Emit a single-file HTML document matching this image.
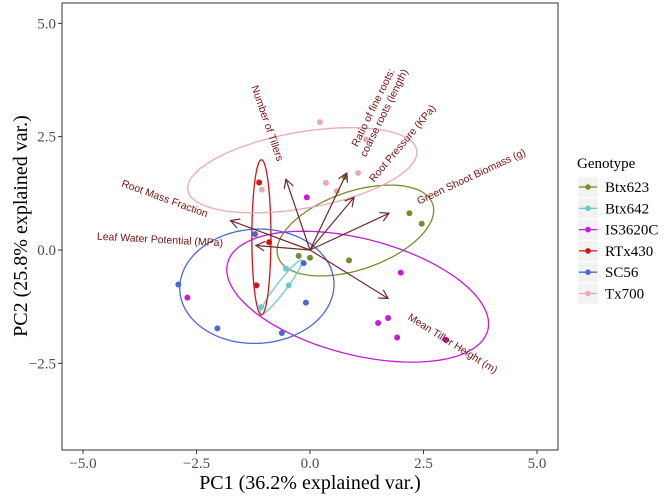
<!DOCTYPE html>
<html><head><meta charset="utf-8"><style>
html,body{margin:0;padding:0;background:#fff;}
svg{display:block;}
</style></head><body>
<svg id="chart" width="669" height="499" xmlns="http://www.w3.org/2000/svg"></svg>
<script>
const xTicks=[-5,-2.5,0,2.5,5];
const yTicks=[-2.5,0,2.5,5];
const xTickLabels=["\u22125.0","\u22122.5","0.0","2.5","5.0"];
const yTickLabels=["\u22122.5","0.0","2.5","5.0"];
const groups=["Btx623","Btx642","IS3620C","RTx430","SC56","Tx700"];
const groupColors=["#7a8b2a","#6cc9c9","#c61ad6","#d4141c","#4a68d4","#e8aab8"];
const btx623X=[0.77,2.19,2.46,0.86,-0.25,0.0];
const btx623Y=[1.61,0.81,0.58,-0.23,-0.13,-0.17];
const btx642X=[-1.08,-0.47,-0.53];
const btx642Y=[-1.26,-0.78,-0.41];
const is3620cX=[-0.07,-2.70,2.0,1.72,1.50,1.92,2.99];
const is3620cY=[1.16,-1.05,-0.50,-1.50,-1.61,-1.93,-1.98];
const rtx430X=[-1.12,-0.90,-1.18];
const rtx430Y=[1.49,0.17,-0.78];
const sc56X=[-1.21,-2.90,-2.04,-0.62,-0.09,-0.14];
const sc56Y=[0.35,-0.76,-1.73,-1.83,-1.16,-0.29];
const tx700X=[0.22,0.35,1.06,-1.06,1.23,0.59];
const tx700Y=[2.82,1.48,1.70,1.33,2.44,1.30];
const groupX=[btx623X,btx642X,is3620cX,rtx430X,sc56X,tx700X];
const groupY=[btx623Y,btx642Y,is3620cY,rtx430Y,sc56Y,tx700Y];
const ellCX=[1.0,-0.64,1.05,-1.07,-1.17,-0.17];
const ellCY=[0.43,-0.83,-1.03,0.28,-0.80,1.76];
const ellA=[1.80,0.76,2.96,1.71,1.70,2.56];
const ellB=[0.86,0.11,1.28,0.21,1.26,0.84];
const ellAngle=[19,52.8,-14.5,90,3,10];
const varNames=["Number of Tillers","Ratio of fine roots:|coarse roots (length)","Root Pressure (KPa)","Green Shoot Biomass (g)","Root Mass Fraction","Leaf Water Potential (MPa)","Mean Tiller Height (m)"];
const varX=[-0.53,0.81,0.97,1.74,-1.75,-1.19,1.72];
const varY=[1.56,1.70,1.16,0.81,0.65,0.10,-1.07];

const NS="http://www.w3.org/2000/svg";
const svg=document.getElementById('chart');
const P={l:62,r:558,t:3,b:450};
const sx=v=>310+v*45.4;
const sy=v=>250-v*45.33;
function mk(tag,attrs,parent){const e=document.createElementNS(NS,tag);for(const k in attrs)e.setAttribute(k,attrs[k]);(parent||svg).appendChild(e);return e;}

const panel=mk('rect',{x:P.l,y:P.t,width:P.r-P.l,height:P.b-P.t,fill:'#fff',stroke:'#333','stroke-width':1});



xTicks.forEach((v,i)=>{
  const x=sx(v);
  mk('line',{x1:x,x2:x,y1:P.b,y2:P.b+4,stroke:'#333'});
  const t=mk('text',{x:x,y:P.b+18,'text-anchor':'middle','font-family':'Liberation Serif, serif','font-size':15,fill:'#4d4d4d'});
  t.textContent=xTickLabels[i];
  
  
});
yTicks.forEach((v,i)=>{
  const y=sy(v);
  mk('line',{x1:P.l-4,x2:P.l,y1:y,y2:y,stroke:'#333'});
  const t=mk('text',{x:P.l-6,y:y+5,'text-anchor':'end','font-family':'Liberation Serif, serif','font-size':15,fill:'#4d4d4d'});
  t.textContent=yTickLabels[i];
  
  
});
const xt=mk('text',{x:310,y:489,'text-anchor':'middle','font-family':'Liberation Serif, serif','font-size':20,fill:'#000'});
xt.textContent='PC1 (36.2% explained var.)';


const yt=mk('text',{x:0,y:0,'text-anchor':'middle','font-family':'Liberation Serif, serif','font-size':20,fill:'#000',transform:'translate(27,226) rotate(-90)'});
yt.textContent='PC2 (25.8% explained var.)';



groups.forEach((g,gi)=>{
  const th=ellAngle[gi]*Math.PI/180;
  let pts=[];
  for(let a=0;a<=120;a++){
    const t=a/120*2*Math.PI;
    const u=ellA[gi]*Math.cos(t),v=ellB[gi]*Math.sin(t);
    const ex=ellCX[gi]+u*Math.cos(th)-v*Math.sin(th),ey=ellCY[gi]+u*Math.sin(th)+v*Math.cos(th);
    pts.push(sx(ex).toFixed(1)+','+sy(ey).toFixed(1));
  }
  const e=mk('polyline',{points:pts.join(' '),fill:'none',stroke:groupColors[gi],'stroke-width':1.3});
  
  
});

groups.forEach((g,gi)=>{
  groupX[gi].forEach((v,i)=>{
    const c=mk('circle',{cx:sx(v),cy:sy(groupY[gi][i]),r:3,fill:groupColors[gi]});
    
    
  });
});

mk('defs',{}).innerHTML='<marker id="ah" markerWidth="10" markerHeight="10" refX="9" refY="5" orient="auto" markerUnits="userSpaceOnUse"><path d="M0,0 L9,5 L0,10" fill="none" stroke="#6b2a2a" stroke-width="1.2"/></marker>';
varNames.forEach((nm,i)=>{
  const a=mk('line',{x1:sx(0),y1:sy(0),x2:sx(varX[i]),y2:sy(varY[i]),stroke:'#6b2a2a','stroke-width':1.2,'marker-end':'url(#ah)'});
  
  
});
const labelPos=[[268,123,71],[378,110,-64],[402,143,-50],[471,176,-25],[165,198,20],[160,239,3],[453,343,32]];
varNames.forEach((nm,i)=>{
  const [x,y,r]=labelPos[i];
  const lines=nm.split('|');
  const t=mk('text',{'text-anchor':'middle','font-family':'Liberation Sans, sans-serif','font-size':10.5,fill:'#7a1010',transform:`translate(${x},${y}) rotate(${r})`});
  lines.forEach((ln,j)=>{const s=mk('tspan',{x:0,y:(j-(lines.length-1)/2)*12+4},t);s.textContent=ln;});
  
  
});

const lt=mk('text',{x:577,y:168,'font-family':'Liberation Serif, serif','font-size':15,fill:'#000'});
lt.textContent='Genotype';


groups.forEach((g,gi)=>{
  const y=187+gi*21.3;
  const gr=mk('g',{});
  
  
  mk('rect',{x:578,y:y-10,width:20,height:20,fill:'#f2f2f2'},gr);
  mk('line',{x1:579,x2:597,y1:y,y2:y,stroke:groupColors[gi],'stroke-width':1.3},gr);
  mk('circle',{cx:588,cy:y,r:2.8,fill:groupColors[gi]},gr);
  const t=mk('text',{x:605,y:y+5,'font-family':'Liberation Serif, serif','font-size':15,fill:'#000'},gr);
  t.textContent=g;
});
</script>
</body></html>
